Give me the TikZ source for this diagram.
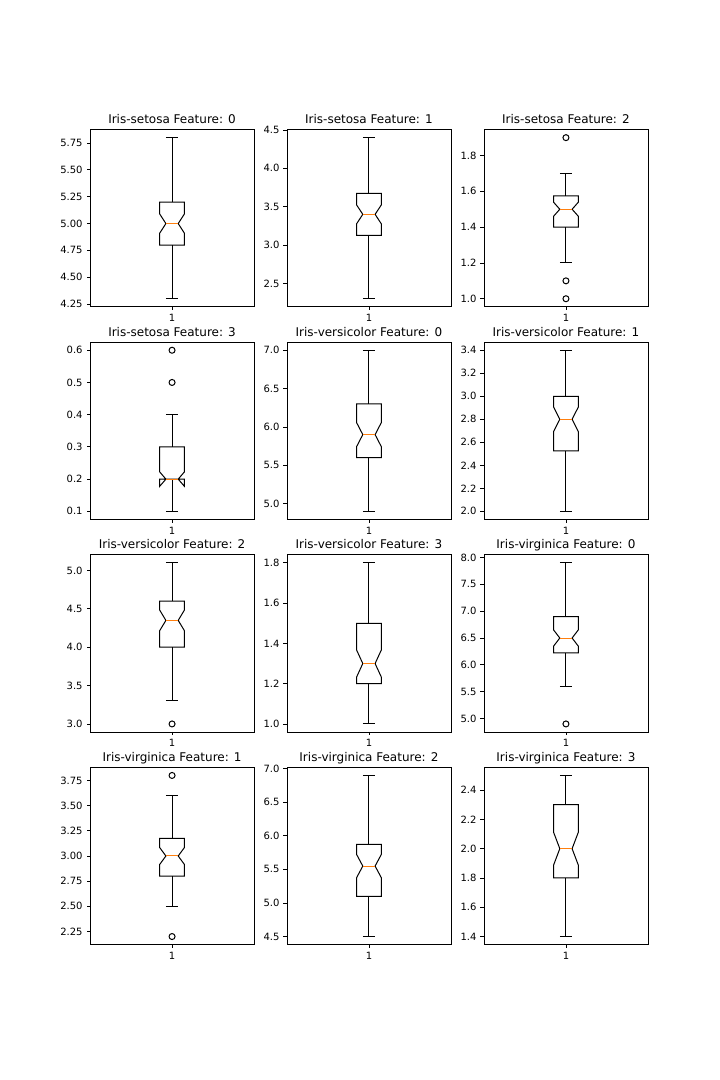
\documentclass[tikz,border=0pt]{standalone}
\usepackage{fontspec}
\setmainfont{DejaVu Sans}
\definecolor{medorange}{HTML}{FF7F0E}
\tikzset{
  panel/.style n args={4}{x=164.1pt, y={177.2pt/(#4-#3)},
    shift={({#1pt-82.05pt},{#2pt-177.2pt*#3/(#4-#3)})}},
  frame/.style={line width=0.8pt},
  boxline/.style={line width=1pt},
  medline/.style={medorange, line width=1pt},
  flier/.style={line width=1pt},
  ticklab/.style={font=\fontsize{10}{12}\selectfont, inner sep=0pt},
  titlelab/.style={font=\fontsize{12}{14}\selectfont, inner sep=0pt, anchor=base},
}
% frame, ticks and title: lo, hi, title, tick list, id
\newcommand{\axesframe}[5]{%
  \draw[frame] (0.5,#1) rectangle (1.5,#2);
  \foreach \t [count=\i] in {#4}
    \draw[frame] (0.5,\t) -- ++(-3.5pt,0) node[ticklab, anchor=east, xshift=-3.5pt] (#5t\i) {\t};
  \draw[frame] (1,#1) -- ++(0,-3.5pt) node[ticklab, anchor=north, yshift=-3.5pt] (#5x) {1};
  \node[titlelab] (#5title) at ([yshift=6pt]1,#2) {#3};}
% whiskers: q1, q3, low, high
\newcommand{\whiskers}[4]{%
  \draw[boxline] (1,#1) -- (1,#3) (0.9625,#3) -- (1.0375,#3)
    (1,#2) -- (1,#4) (0.9625,#4) -- (1.0375,#4);}
% notched box: q1, median, q3, notch half height
\newcommand{\notchbox}[4]{%
  \draw[boxline] (0.925,#1) -- (1.075,#1) -- (1.075,{#2-#4}) -- (1.0375,#2) -- (1.075,{#2+#4})
    -- (1.075,#3) -- (0.925,#3) -- (0.925,{#2+#4}) -- (0.9625,#2) -- (0.925,{#2-#4}) -- cycle;
  \draw[medline] (0.9625,#2) -- (1.0375,#2);}
\begin{document}
\begin{tikzpicture}[x=1pt, y=1pt]
  \useasboundingbox (0,0) rectangle (720,1080);
  \fill[white] (0,0) rectangle (720,1080);
  % row 1
  \begin{scope}[panel={90}{773.2}{4.225}{5.875}]
    \axesframe{4.225}{5.875}{Iris-setosa Feature: 0}{4.25,4.50,4.75,5.00,5.25,5.50,5.75}{a}
    \whiskers{4.8}{5.2}{4.3}{5.8}
    \notchbox{4.8}{5.0}{5.2}{0.0888}
  \end{scope}
  \begin{scope}[panel={286.9}{773.2}{2.195}{4.505}]
    \axesframe{2.195}{4.505}{Iris-setosa Feature: 1}{2.5,3.0,3.5,4.0,4.5}{b}
    \whiskers{3.125}{3.675}{2.3}{4.4}
    \notchbox{3.125}{3.4}{3.675}{0.1221}
  \end{scope}
  \begin{scope}[panel={483.9}{773.2}{0.955}{1.945}]
    \axesframe{0.955}{1.945}{Iris-setosa Feature: 2}{1.0,1.2,1.4,1.6,1.8}{c}
    \whiskers{1.4}{1.575}{1.2}{1.7}
    \notchbox{1.4}{1.5}{1.575}{0.0389}
    \foreach \v in {1.0,1.1,1.9} \draw[flier] (1,\v) circle[radius=3pt];
  \end{scope}
  % row 2
  \begin{scope}[panel={90}{560.6}{0.075}{0.625}]
    \axesframe{0.075}{0.625}{Iris-setosa Feature: 3}{0.1,0.2,0.3,0.4,0.5,0.6}{d}
    \whiskers{0.2}{0.3}{0.1}{0.4}
    \notchbox{0.2}{0.2}{0.3}{0.0222}
    \foreach \v in {0.5,0.6} \draw[flier] (1,\v) circle[radius=3pt];
  \end{scope}
  \begin{scope}[panel={286.9}{560.6}{4.795}{7.105}]
    \axesframe{4.795}{7.105}{Iris-versicolor Feature: 0}{5.0,5.5,6.0,6.5,7.0}{e}
    \whiskers{5.6}{6.3}{4.9}{7.0}
    \notchbox{5.6}{5.9}{6.3}{0.1554}
  \end{scope}
  \begin{scope}[panel={483.9}{560.6}{1.93}{3.47}]
    \axesframe{1.93}{3.47}{Iris-versicolor Feature: 1}{2.0,2.2,2.4,2.6,2.8,3.0,3.2,3.4}{f}
    \whiskers{2.525}{3.0}{2.0}{3.4}
    \notchbox{2.525}{2.8}{3.0}{0.1055}
  \end{scope}
  % row 3
  \begin{scope}[panel={90}{348.0}{2.895}{5.205}]
    \axesframe{2.895}{5.205}{Iris-versicolor Feature: 2}{3.0,3.5,4.0,4.5,5.0}{g}
    \whiskers{4.0}{4.6}{3.3}{5.1}
    \notchbox{4.0}{4.35}{4.6}{0.1332}
    \draw[flier] (1,3.0) circle[radius=3pt];
  \end{scope}
  \begin{scope}[panel={286.9}{348.0}{0.96}{1.84}]
    \axesframe{0.96}{1.84}{Iris-versicolor Feature: 3}{1.0,1.2,1.4,1.6,1.8}{h}
    \whiskers{1.2}{1.5}{1.0}{1.8}
    \notchbox{1.2}{1.3}{1.5}{0.0666}
  \end{scope}
  \begin{scope}[panel={483.9}{348.0}{4.75}{8.05}]
    \axesframe{4.75}{8.05}{Iris-virginica Feature: 0}{5.0,5.5,6.0,6.5,7.0,7.5,8.0}{i}
    \whiskers{6.225}{6.9}{5.6}{7.9}
    \notchbox{6.225}{6.5}{6.9}{0.1499}
    \draw[flier] (1,4.9) circle[radius=3pt];
  \end{scope}
  % row 4
  \begin{scope}[panel={90}{135.4}{2.12}{3.88}]
    \axesframe{2.12}{3.88}{Iris-virginica Feature: 1}{2.25,2.50,2.75,3.00,3.25,3.50,3.75}{j}
    \whiskers{2.8}{3.175}{2.5}{3.6}
    \notchbox{2.8}{3.0}{3.175}{0.0833}
    \foreach \v in {2.2,3.8} \draw[flier] (1,\v) circle[radius=3pt];
  \end{scope}
  \begin{scope}[panel={286.9}{135.4}{4.38}{7.02}]
    \axesframe{4.38}{7.02}{Iris-virginica Feature: 2}{4.5,5.0,5.5,6.0,6.5,7.0}{k}
    \whiskers{5.1}{5.875}{4.5}{6.9}
    \notchbox{5.1}{5.55}{5.875}{0.1721}
  \end{scope}
  \begin{scope}[panel={483.9}{135.4}{1.345}{2.555}]
    \axesframe{1.345}{2.555}{Iris-virginica Feature: 3}{1.4,1.6,1.8,2.0,2.2,2.4}{l}
    \whiskers{1.8}{2.3}{1.4}{2.5}
    \notchbox{1.8}{2.0}{2.3}{0.111}
  \end{scope}
\end{tikzpicture}
\end{document}
